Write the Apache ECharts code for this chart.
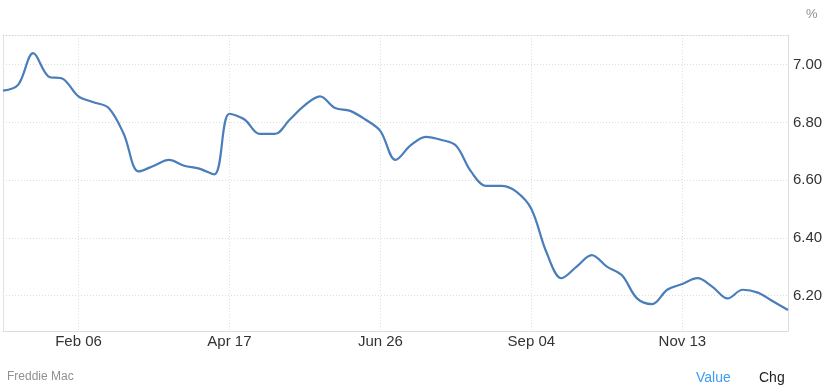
<!DOCTYPE html>
<html>
<head>
<meta charset="utf-8">
<script src="https://cdn.jsdelivr.net/npm/echarts@6/dist/echarts.min.js"></script>
<style>
html,body{margin:0;padding:0;background:#fff;}
#chart{width:831px;height:390px;}
</style>
</head>
<body>
<div id="chart"></div>
<script>
const dates = [
  '2025-01-02','2025-01-09','2025-01-16','2025-01-23','2025-01-30',
  '2025-02-06','2025-02-13','2025-02-20','2025-02-27',
  '2025-03-06','2025-03-13','2025-03-20','2025-03-27',
  '2025-04-03','2025-04-10','2025-04-17','2025-04-24',
  '2025-05-01','2025-05-08','2025-05-15','2025-05-22','2025-05-29',
  '2025-06-05','2025-06-12','2025-06-18','2025-06-26',
  '2025-07-03','2025-07-10','2025-07-17','2025-07-24','2025-07-31',
  '2025-08-07','2025-08-14','2025-08-21','2025-08-28',
  '2025-09-04','2025-09-11','2025-09-18','2025-09-25',
  '2025-10-02','2025-10-09','2025-10-16','2025-10-23','2025-10-30',
  '2025-11-06','2025-11-13','2025-11-20','2025-11-26',
  '2025-12-04','2025-12-11','2025-12-18','2025-12-24','2025-12-31'
];
const rates = [
  6.91, 6.93, 7.04, 6.96, 6.95,
  6.89, 6.87, 6.85, 6.76,
  6.63, 6.65, 6.67, 6.65,
  6.64, 6.62, 6.83, 6.81,
  6.76, 6.76, 6.81, 6.86, 6.89,
  6.85, 6.84, 6.81, 6.77,
  6.67, 6.72, 6.75, 6.74, 6.72,
  6.63, 6.58, 6.58, 6.56,
  6.50, 6.35, 6.26, 6.30,
  6.34, 6.30, 6.27, 6.19, 6.17,
  6.22, 6.24, 6.26, 6.23,
  6.19, 6.22, 6.21, 6.18, 6.15
];
const yTicks = [6.2, 6.4, 6.6, 6.8, 7.0];
const yMin = 6.077, yMax = 7.103;
const months = ['Jan','Feb','Mar','Apr','May','Jun','Jul','Aug','Sep','Oct','Nov','Dec'];
const labelEvery = 10, labelOffset = 5;

function fmtDate(s) {
  const p = s.split('-');
  return months[parseInt(p[1], 10) - 1] + ' ' + p[2];
}
const showIdx = (i) => i % labelEvery === labelOffset;

const chart = echarts.init(document.getElementById('chart'), null, {renderer: 'canvas'});
const FONT = '"Liberation Sans", Arial, sans-serif';
chart.setOption({
  animation: false,
  backgroundColor: '#ffffff',
  textStyle: {fontFamily: FONT},
  grid: {left: 3, right: 43, top: 35, bottom: 59, containLabel: false},
  xAxis: [{
    type: 'category',
    data: dates,
    boundaryGap: false,
    axisLine: {show: true, lineStyle: {color: '#dcdcdc', width: 1}},
    axisTick: {show: false},
    axisLabel: {
      interval: (i) => showIdx(i),
      formatter: (v) => fmtDate(v),
      color: '#333333', fontSize: 15, fontFamily: FONT, margin: 3
    },
    splitLine: {show: true, interval: (i) => showIdx(i),
      lineStyle: {color: '#dedede', type: [1, 2], width: 1}}
  }, {
    type: 'category',
    data: dates,
    position: 'top',
    boundaryGap: false,
    axisLine: {show: true, lineStyle: {color: '#d6d6d6', type: [1, 2], width: 1}},
    axisTick: {show: false},
    axisLabel: {show: false},
    splitLine: {show: false}
  }],
  yAxis: [{
    type: 'value',
    position: 'right',
    min: yMin, max: yMax,
    axisLine: {show: true, lineStyle: {color: '#dcdcdc', width: 1}},
    axisTick: {show: false, customValues: yTicks},
    axisLabel: {
      customValues: yTicks,
      formatter: (v) => v.toFixed(2),
      color: '#333333', fontSize: 15, fontFamily: FONT, margin: 5
    },
    splitLine: {show: true, lineStyle: {color: '#dedede', type: [1, 2], width: 1}}
  }, {
    type: 'value',
    position: 'left',
    min: yMin, max: yMax,
    axisLine: {show: true, lineStyle: {color: '#e2e2e2', width: 1}},
    axisTick: {show: false},
    axisLabel: {show: false},
    splitLine: {show: false}
  }],
  series: [{
    type: 'line',
    data: rates,
    xAxisIndex: 0,
    yAxisIndex: 0,
    smooth: 0.35,
    showSymbol: false,
    lineStyle: {color: '#4a7ebb', width: 2.2},
    itemStyle: {color: '#4a7ebb'}
  }],
  graphic: [
    {type: 'text', left: 7, top: 371, style: {text: 'Freddie Mac', fill: '#909090', font: '12px ' + FONT}},
    {type: 'text', left: 696, top: 371, style: {text: 'Value', fill: '#3d9bf2', font: '14px ' + FONT}},
    {type: 'text', left: 759, top: 371, style: {text: 'Chg', fill: '#222222', font: '14px ' + FONT}},
    {type: 'text', left: 806, top: 8, style: {text: '%', fill: '#909090', font: '13px ' + FONT}}
  ]
});
</script>
</body>
</html>
